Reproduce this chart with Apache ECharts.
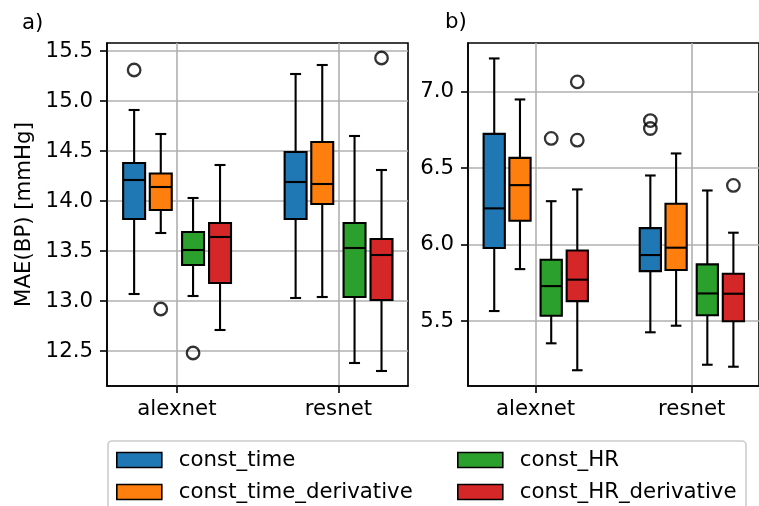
<!DOCTYPE html>
<html>

<head>
    <meta charset="utf-8">
    <title>MAE boxplots</title>
    <style>
        html, body { margin: 0; padding: 0; background: #fff; }
    </style>
</head>

<body>
    <div id="chart" style="width: 759px;height: 506px;"></div>

    <script src="https://cdn.jsdelivr.net/npm/echarts@6/dist/echarts.min.js"></script>
    <script>
        const chart = echarts.init(document.getElementById('chart'));

        const categories = ['alexnet', 'resnet'];
        const methods = ['const_time', 'const_time_derivative', 'const_HR', 'const_HR_derivative'];
        const colors = ['#1f77b4', '#ff7f0e', '#2ca02c', '#d62728'];

        // panel a) -- [low whisker, Q1, median, Q3, high whisker] per category
        const aTime = [[13.07, 13.82, 14.21, 14.38, 14.91], [13.03, 13.82, 14.19, 14.49, 15.27]];
        const aTimeDeriv = [[13.68, 13.91, 14.14, 14.275, 14.67], [13.04, 13.97, 14.17, 14.59, 15.36]];
        const aHR = [[13.05, 13.36, 13.51, 13.69, 14.03], [12.38, 13.04, 13.53, 13.78, 14.65]];
        const aHRDeriv = [[12.71, 13.18, 13.64, 13.78, 14.36], [12.30, 13.01, 13.46, 13.62, 14.31]];
        // [category index, method index, value]
        const aOutliers = [[0, 0, 15.31], [0, 1, 12.92], [0, 2, 12.48], [1, 3, 15.43]];
        const aTicks = [12.5, 13.0, 13.5, 14.0, 14.5, 15.0, 15.5];

        // panel b)
        const bTime = [[5.565, 5.977, 6.236, 6.723, 7.216], [5.426, 5.826, 5.931, 6.107, 6.451]];
        const bTimeDeriv = [[5.839, 6.155, 6.388, 6.566, 6.948], [5.469, 5.833, 5.979, 6.266, 6.595]];
        const bHR = [[5.354, 5.534, 5.728, 5.90, 6.283], [5.214, 5.537, 5.68, 5.87, 6.353]];
        const bHRDeriv = [[5.178, 5.63, 5.77, 5.961, 6.36], [5.201, 5.498, 5.678, 5.809, 6.077]];
        const bOutliers = [[0, 2, 6.693], [0, 3, 7.063], [0, 3, 6.682], [1, 0, 6.81], [1, 0, 6.758], [1, 3, 6.386]];
        const bTicks = [5.5, 6.0, 6.5, 7.0];

        // layout of the boxes inside a category (category units)
        const offsets = [-0.265, -0.1, 0.1, 0.267];
        const boxWidth = 0.136;
        const FONT = 'DejaVu Sans';
        const FS = 21.3;
        const LW = 2.1;

        function renderBox(params, api) {
            const x = api.value(0);
            const lo = api.coord([x, api.value(1)]);
            const q1 = api.coord([x, api.value(2)]);
            const med = api.coord([x, api.value(3)]);
            const q3 = api.coord([x, api.value(4)]);
            const hi = api.coord([x, api.value(5)]);
            const w = api.size([boxWidth, 0])[0];
            const cx = lo[0];
            const line = { stroke: '#000', lineWidth: LW };
            return {
                type: 'group',
                children: [
                    { type: 'line', shape: { x1: cx, y1: lo[1], x2: cx, y2: q1[1] }, style: line },
                    { type: 'line', shape: { x1: cx, y1: q3[1], x2: cx, y2: hi[1] }, style: line },
                    { type: 'line', shape: { x1: cx - w / 4, y1: lo[1], x2: cx + w / 4, y2: lo[1] }, style: line },
                    { type: 'line', shape: { x1: cx - w / 4, y1: hi[1], x2: cx + w / 4, y2: hi[1] }, style: line },
                    {
                        type: 'rect',
                        shape: { x: cx - w / 2, y: q3[1], width: w, height: q1[1] - q3[1] },
                        style: { fill: api.visual('color'), stroke: '#000', lineWidth: LW }
                    },
                    { type: 'line', shape: { x1: cx - w / 2, y1: med[1], x2: cx + w / 2, y2: med[1] }, style: line }
                ]
            };
        }

        function boxSeries(idx, name, stats, m) {
            return {
                type: 'custom',
                name: name,
                xAxisIndex: idx,
                yAxisIndex: idx,
                itemStyle: { color: colors[m] },
                renderItem: renderBox,
                encode: { x: 0, y: [1, 2, 3, 4, 5] },
                data: stats.map((s, c) => [c + offsets[m]].concat(s)),
                z: 3
            };
        }

        function outlierSeries(idx, list) {
            return {
                type: 'scatter',
                xAxisIndex: idx,
                yAxisIndex: idx,
                symbol: 'circle',
                symbolSize: 12.5,
                itemStyle: { color: 'rgba(0,0,0,0)', borderColor: '#000', borderWidth: 2.3 },
                data: list.map(o => [o[0] + offsets[o[1]], o[2]]),
                z: 4
            };
        }

        function xAxis(idx) {
            return {
                type: 'value',
                gridIndex: idx,
                min: -0.433,
                max: 1.431,
                axisLine: { show: true, onZero: false, lineStyle: { color: '#000', width: 1.6 } },
                axisTick: { show: true, length: 7, customValues: [0, 1], lineStyle: { color: '#000', width: 1.6 } },
                axisLabel: {
                    customValues: [0, 1],
                    formatter: v => categories[Math.round(v)],
                    color: '#000', fontFamily: FONT, fontSize: FS, margin: 13
                },
                splitLine: { show: true, lineStyle: { color: '#b0b0b0', width: 1.6 } }
            };
        }

        function yAxis(idx, min, max, ticks, name) {
            return {
                type: 'value',
                gridIndex: idx,
                min: min,
                max: max,
                name: name,
                nameLocation: 'middle',
                nameGap: 72,
                nameTextStyle: { color: '#000', fontFamily: FONT, fontSize: FS },
                axisLine: { show: true, onZero: false, lineStyle: { color: '#000', width: 1.6 } },
                axisTick: { show: true, length: 7, customValues: ticks, lineStyle: { color: '#000', width: 1.6 } },
                axisLabel: {
                    customValues: ticks,
                    formatter: v => v.toFixed(1),
                    color: '#000', fontFamily: FONT, fontSize: FS, margin: 14
                },
                splitLine: { show: true, lineStyle: { color: '#b0b0b0', width: 1.6 } }
            };
        }

        const legendCommon = {
            orient: 'vertical',
            top: 448,
            height: 100,
            padding: 0,
            itemWidth: 45,
            itemHeight: 15,
            itemGap: 8,
            icon: 'rect',
            selectedMode: false,
            itemStyle: { borderColor: '#000', borderWidth: 1.6 },
            textStyle: { color: '#000', fontFamily: FONT, fontSize: FS, lineHeight: 24, padding: [0, 0, 0, 12] }
        };

        const titleStyle = { fontFamily: FONT, fontSize: FS, fontWeight: 'normal', color: '#000' };

        const option = {
            animation: false,
            backgroundColor: '#fff',
            title: [
                { text: 'a)', left: 22, top: 13, padding: 0, textStyle: titleStyle },
                { text: 'b)', left: 445, top: 12, padding: 0, textStyle: titleStyle }
            ],
            grid: [
                { left: 107, top: 43, width: 301, height: 343, show: true, borderColor: '#000', borderWidth: 1.6, backgroundColor: 'transparent' },
                { left: 468, top: 43, width: 301, height: 343, show: true, borderColor: '#000', borderWidth: 1.6, backgroundColor: 'transparent' }
            ],
            xAxis: [xAxis(0), xAxis(1)],
            yAxis: [
                yAxis(0, 12.15, 15.58, aTicks, 'MAE(BP) [mmHg]'),
                yAxis(1, 5.075, 7.317, bTicks, '')
            ],
            legend: [
                Object.assign({ left: 116, data: [methods[0], methods[1]] }, legendCommon),
                Object.assign({ left: 457, data: [methods[2], methods[3]] }, legendCommon)
            ],
            graphic: [{
                type: 'rect',
                shape: { x: 108, y: 441, width: 638, height: 90, r: 4 },
                style: { fill: 'rgba(255,255,255,0.8)', stroke: '#cccccc', lineWidth: 1.6 },
                z: -1
            }],
            series: [
                boxSeries(0, methods[0], aTime, 0),
                boxSeries(0, methods[1], aTimeDeriv, 1),
                boxSeries(0, methods[2], aHR, 2),
                boxSeries(0, methods[3], aHRDeriv, 3),
                outlierSeries(0, aOutliers),
                boxSeries(1, methods[0], bTime, 0),
                boxSeries(1, methods[1], bTimeDeriv, 1),
                boxSeries(1, methods[2], bHR, 2),
                boxSeries(1, methods[3], bHRDeriv, 3),
                outlierSeries(1, bOutliers)
            ]
        };

        chart.setOption(option);
    </script>
</body>

</html>
